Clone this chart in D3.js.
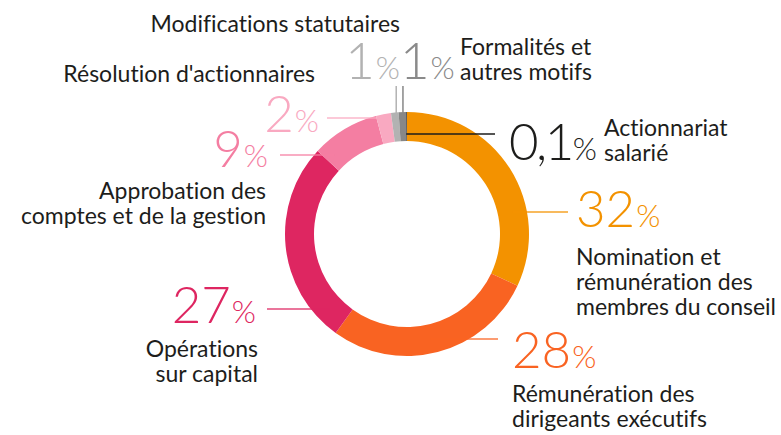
<!DOCTYPE html>
<html>
<head>
<meta charset="utf-8">
<script src="https://cdn.jsdelivr.net/npm/d3@7/dist/d3.min.js"></script>
<style>
  html, body { margin: 0; padding: 0; background: #ffffff; }
  svg { display: block; }
  .cat { font-family: "Lato", "Open Sans", sans-serif; font-size: 23px; fill: #1d1d1b;
         font-variant-ligatures: none; font-feature-settings: "liga" 0, "dlig" 0; }
  .pct { font-family: "Lato", "Open Sans", sans-serif; font-weight: 300; }
</style>
</head>
<body>
<svg id="chart" width="781" height="435"></svg>
<script>
// Breakdown of resolutions by theme (share of total, %)
const categories = [
  "Nomination et rémunération des membres du conseil",
  "Rémunération des dirigeants exécutifs",
  "Opérations sur capital",
  "Approbation des comptes et de la gestion",
  "Résolution d'actionnaires",
  "Modifications statutaires",
  "Formalités et autres motifs",
  "Actionnariat salarié"
];
const categoryLines = [
  ["Nomination et", "rémunération des", "membres du conseil"],
  ["Rémunération des", "dirigeants exécutifs"],
  ["Opérations", "sur capital"],
  ["Approbation des", "comptes et de la gestion"],
  ["Résolution d'actionnaires"],
  ["Modifications statutaires"],
  ["Formalités et", "autres motifs"],
  ["Actionnariat", "salarié"]
];
const values = [32, 28, 27, 9, 2, 1, 1, 0.1];
const valueLabels = ["32", "28", "27", "9", "2", "1", "1", "0,1"];
const colors = ["#f39200", "#f96322", "#de2661", "#f47ea2", "#f9a9c1", "#b2b2b2", "#878787", "#333333"];
const labelColors = ["#f39200", "#f96322", "#de2661", "#f47ea2", "#f9a9c1", "#b2b2b2", "#8a8a8a", "#1d1d1b"];

// Label placement around the ring
const layout = [
  { lead: "h", side: 1, y: 212, x2: 568, num: [576, 227, "start"], txt: [576, 265, "start"] },
  { lead: "h", side: 1, y: 339, x2: 498, num: [512, 368, "start"], txt: [512, 402, "start"] },
  { lead: "h", side: -1, y: 309, x2: 267, num: [256, 323, "end"], txt: [258, 357, "end"] },
  { lead: "h", side: -1, y: 155, x2: 280, num: [268, 167, "end"], txt: [266, 199, "end"] },
  { lead: "h", side: -1, y: 118, x2: 327, num: [319, 132, "end"], txt: [315, 82, "end"] },
  { lead: "v", y: 86, num: [400, 79, "end"], txt: [400, 32, "end"] },
  { lead: "v", y: 86, num: [400, 79, "start"], txt: [460, 55, "start"] },
  { lead: "t", y: 134, x2: 495, num: [509, 160, "start"], txt: [604, 136, "start"] }
];

const cx = 407, cy = 234, rOuter = 122, rInner = 93;
const lineHeight = 25;

const svg = d3.select("#chart");
const g = svg.append("g").attr("transform", `translate(${cx},${cy})`);

const pie = d3.pie().sort(null).value(d => d.value);
const arcs = pie(values.map((v, i) => ({ value: v, i })));
const arc = d3.arc().innerRadius(rInner).outerRadius(rOuter);
const rMid = (rInner + rOuter) / 2;

// Leader lines that sit under the ring
arcs.forEach((a, i) => {
  const L = layout[i];
  if (L.lead === "h") {
    const dy = L.y - cy;
    const r = Math.abs(dy) < rMid ? rMid : rOuter - 2;
    const x1 = cx + L.side * Math.sqrt(Math.max(0, r * r - dy * dy));
    svg.append("line")
      .attr("x1", x1).attr("y1", L.y).attr("x2", L.x2).attr("y2", L.y)
      .attr("stroke", colors[i]).attr("stroke-opacity", 0.85).attr("stroke-width", 1.5);
  } else if (L.lead === "v") {
    const c = arc.centroid(a);
    svg.append("line")
      .attr("x1", cx + c[0]).attr("y1", cy + c[1]).attr("x2", cx + c[0]).attr("y2", L.y)
      .attr("stroke", colors[i]).attr("stroke-width", 1.5);
  }
});

// Ring
g.selectAll("path.seg")
  .data(arcs)
  .join("path")
  .attr("class", "seg")
  .attr("d", arc)
  .attr("fill", d => colors[d.data.i]);

// Leader drawn over the ring for the smallest share
arcs.forEach((a, i) => {
  const L = layout[i];
  if (L.lead === "t") {
    const x1 = cx + rOuter * Math.sin(a.startAngle);
    svg.append("line")
      .attr("x1", x1).attr("y1", L.y).attr("x2", L.x2).attr("y2", L.y)
      .attr("stroke", "#1d1d1b").attr("stroke-width", 1.5);
  }
});

// Percentages
layout.forEach((L, i) => {
  const t = svg.append("text")
    .attr("class", "pct")
    .attr("x", L.num[0]).attr("y", L.num[1])
    .attr("text-anchor", L.num[2])
    .attr("fill", labelColors[i]);
  const label = valueLabels[i];
  t.append("tspan")
    .attr("font-size", 51)
    .attr("letter-spacing", label.includes(",") ? -2.5 : 0)
    .text(label);
  t.append("tspan").attr("font-size", 31).attr("dx", 1).text("%");
});

// Category names
layout.forEach((L, i) => {
  const t = svg.append("text")
    .attr("class", "cat")
    .attr("text-anchor", L.txt[2]);
  categoryLines[i].forEach((line, k) => {
    t.append("tspan")
      .attr("x", L.txt[0])
      .attr("y", L.txt[1] + k * lineHeight)
      .text(line);
  });
});
</script>
</body>
</html>
